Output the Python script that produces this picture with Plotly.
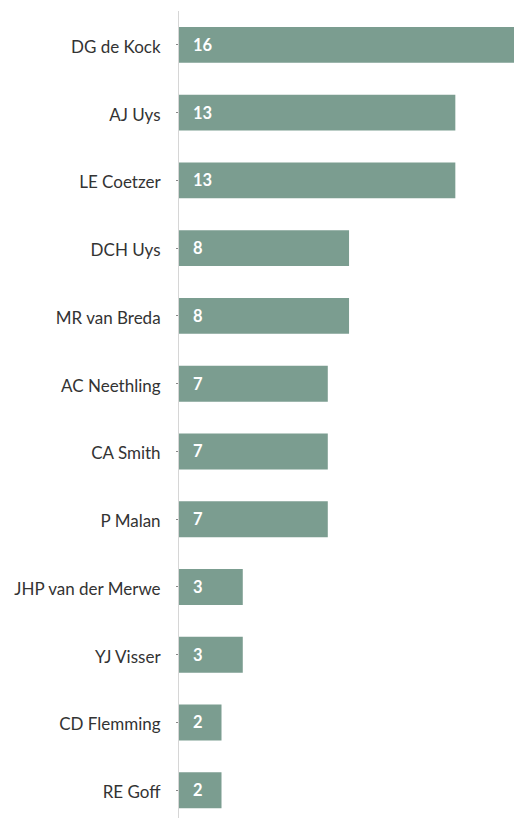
import plotly.graph_objects as go

players = [
    "DG de Kock", "AJ Uys", "LE Coetzer", "DCH Uys", "MR van Breda",
    "AC Neethling", "CA Smith", "P Malan", "JHP van der Merwe",
    "YJ Visser", "CD Flemming", "RE Goff",
]
counts = [16, 13, 13, 8, 8, 7, 7, 7, 3, 3, 2, 2]

bar_color = "#7b9d90"

fig = go.Figure(
    go.Bar(
        x=counts,
        y=players,
        orientation="h",
        marker=dict(color=bar_color, line=dict(width=0)),
        hoverinfo="skip",
    )
)

# value labels sitting just inside the start of each bar
for name, val in zip(players, counts):
    fig.add_annotation(
        x=0, y=name, text=f"<b>{val}</b>", showarrow=False,
        xanchor="left", yanchor="middle", xshift=12,
        font=dict(family="Lato", size=16.5, color="white"),
    )

fig.update_layout(
    width=514, height=818,
    margin=dict(l=179, r=0, t=11, b=0),
    paper_bgcolor="white", plot_bgcolor="white",
    bargap=0.47,
    showlegend=False,
    font=dict(family="Lato", size=17, color="#333333"),
)
fig.update_xaxes(
    range=[0, 15.76], showgrid=False, zeroline=False,
    showticklabels=False, showline=False, fixedrange=True,
)
fig.update_yaxes(
    type="category", categoryorder="array", categoryarray=players,
    range=[11.41, -0.5], showgrid=False, zeroline=False,
    showline=True, linecolor="#d6d6d6", linewidth=1,
    ticks="outside", ticklen=2, tickcolor="#888888",
    ticklabelstandoff=12, ticklabelshift=-2,
    tickfont=dict(family="Lato", size=17, color="#333333"),
    fixedrange=True,
)

fig.write_html("out.html", config={"displayModeBar": False})
